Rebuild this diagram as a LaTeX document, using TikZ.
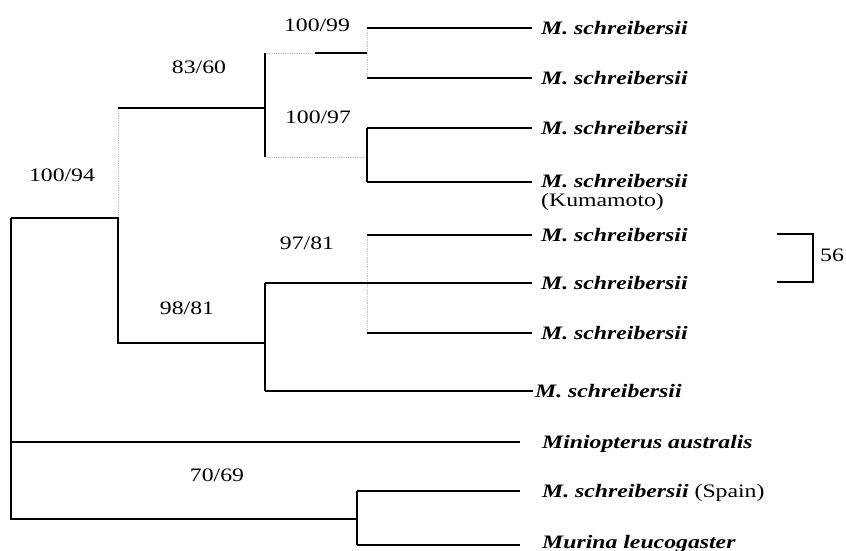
\documentclass[tikz,border=0pt]{standalone}
\usepackage{fontspec}
\setmainfont{Liberation Serif}[FakeStretch=1.25]
\begin{document}
\begin{tikzpicture}[x=1pt,y=-1pt,
  br/.style={line width=1.4pt},
  faint/.style={line width=0.8pt, draw=black!25, densely dotted},
  sp/.style={anchor=base west, inner sep=0pt, font=\fontsize{19}{21}\selectfont\bfseries\itshape},
  note/.style={anchor=base west, inner sep=0pt, font=\fontsize{19}{21}\selectfont},
  sup/.style={inner sep=0pt, font=\fontsize{19}{21}\selectfont}]
\useasboundingbox (0,0) rectangle (846,550);

% internal points
\coordinate (r0) at (11,218);
\coordinate (r1) at (118,218);
\coordinate (rb) at (11,519);
\coordinate (a0) at (118,108);
\coordinate (a1) at (265,108);
\coordinate (b0) at (118,343);
\coordinate (b1) at (265,343);
\coordinate (c0) at (265,53);
\coordinate (c1) at (265,157);
\coordinate (cs) at (315,53);
\coordinate (d0) at (367,53);
\coordinate (d1) at (367,28);
\coordinate (d2) at (367,78);
\coordinate (f0) at (367,157);
\coordinate (f1) at (367,128);
\coordinate (f2) at (367,182);
\coordinate (g1) at (265,283);
\coordinate (g2) at (265,391);
\coordinate (h1) at (367,235);
\coordinate (h2) at (367,333);
\coordinate (m0) at (11,442);
\coordinate (s0) at (357,519);
\coordinate (s1) at (357,491);
\coordinate (s2) at (357,545);

% leaf ends
\coordinate (e1) at (532,28);
\coordinate (e2) at (532,78);
\coordinate (e3) at (532,128);
\coordinate (e4) at (532,182);
\coordinate (e5) at (532,235);
\coordinate (e6) at (532,283);
\coordinate (e7) at (532,333);
\coordinate (e8) at (533,391);
\coordinate (e9) at (520,442);
\coordinate (e10) at (520,491);
\coordinate (e11) at (520,545);

% leaf labels
\node[sp] (t1) at (541,34) {M. schreibersii};
\node[sp] (t2) at (541,84) {M. schreibersii};
\node[sp] (t3) at (541,134) {M. schreibersii};
\node[sp] (t4) at (541,187) {M. schreibersii};
\node[note] (t4b) at (541,206) {(Kumamoto)};
\node[sp] (t5) at (541,241) {M. schreibersii};
\node[sp] (t6) at (541,289) {M. schreibersii};
\node[sp] (t7) at (541,339) {M. schreibersii};
\node[sp] (t8) at (535,397) {M. schreibersii};
\node[sp] (t9) at (542,448) {Miniopterus australis};
\node[sp] (t10) at (542,497) {M. schreibersii\textup{\mdseries\ (Spain)}};
\node[sp] (t11) at (542,548) {Murina leucogaster};

% support values
\node[sup] (v1) at (317,25) {100/99};
\node[sup] (v2) at (199,67) {83/60};
\node[sup] (v3) at (318,117) {100/97};
\node[sup] (v4) at (62,175) {100/94};
\node[sup] (v5) at (307,243) {97/81};
\node[sup] (v6) at (187,308) {98/81};
\node[sup] (v7) at (217,475) {70/69};

% faint (barely printed) branches
\draw[faint] (r1) -- (a0);
\draw[faint] (c0) -- (cs);
\draw[faint] (d1) -- (d2);
\draw[faint] (c1) -- (f0);
\draw[faint] (h1) -- (h2);

% solid branches
\draw[br] (r0) -- (r1) -- (b0) -- (b1);
\draw[br] (r0) -- (rb) -- (s0);
\draw[br] (a0) -- (a1);
\draw[br] (c0) -- (c1);
\draw[br] (cs) -- (d0);
\draw[br] (d1) -- (e1);
\draw[br] (d2) -- (e2);
\draw[br] (f1) -- (f2);
\draw[br] (f1) -- (e3);
\draw[br] (f2) -- (e4);
\draw[br] (h1) -- (e5);
\draw[br] (g1) -- (g2);
\draw[br] (g1) -- (e6);
\draw[br] (h2) -- (e7);
\draw[br] (g2) -- (e8);
\draw[br] (m0) -- (e9);
\draw[br] (s1) -- (s2);
\draw[br] (s1) -- (e10);
\draw[br] (s2) -- (e11);

% bracket
\coordinate (k0) at (777,234);
\coordinate (k1) at (813,234);
\coordinate (k2) at (813,282);
\coordinate (k3) at (777,282);
\draw[br] (k0) -- (k1) -- (k2) -- (k3);
\node[sup] (n56) at (832,255) {56};
\end{tikzpicture}
\end{document}
